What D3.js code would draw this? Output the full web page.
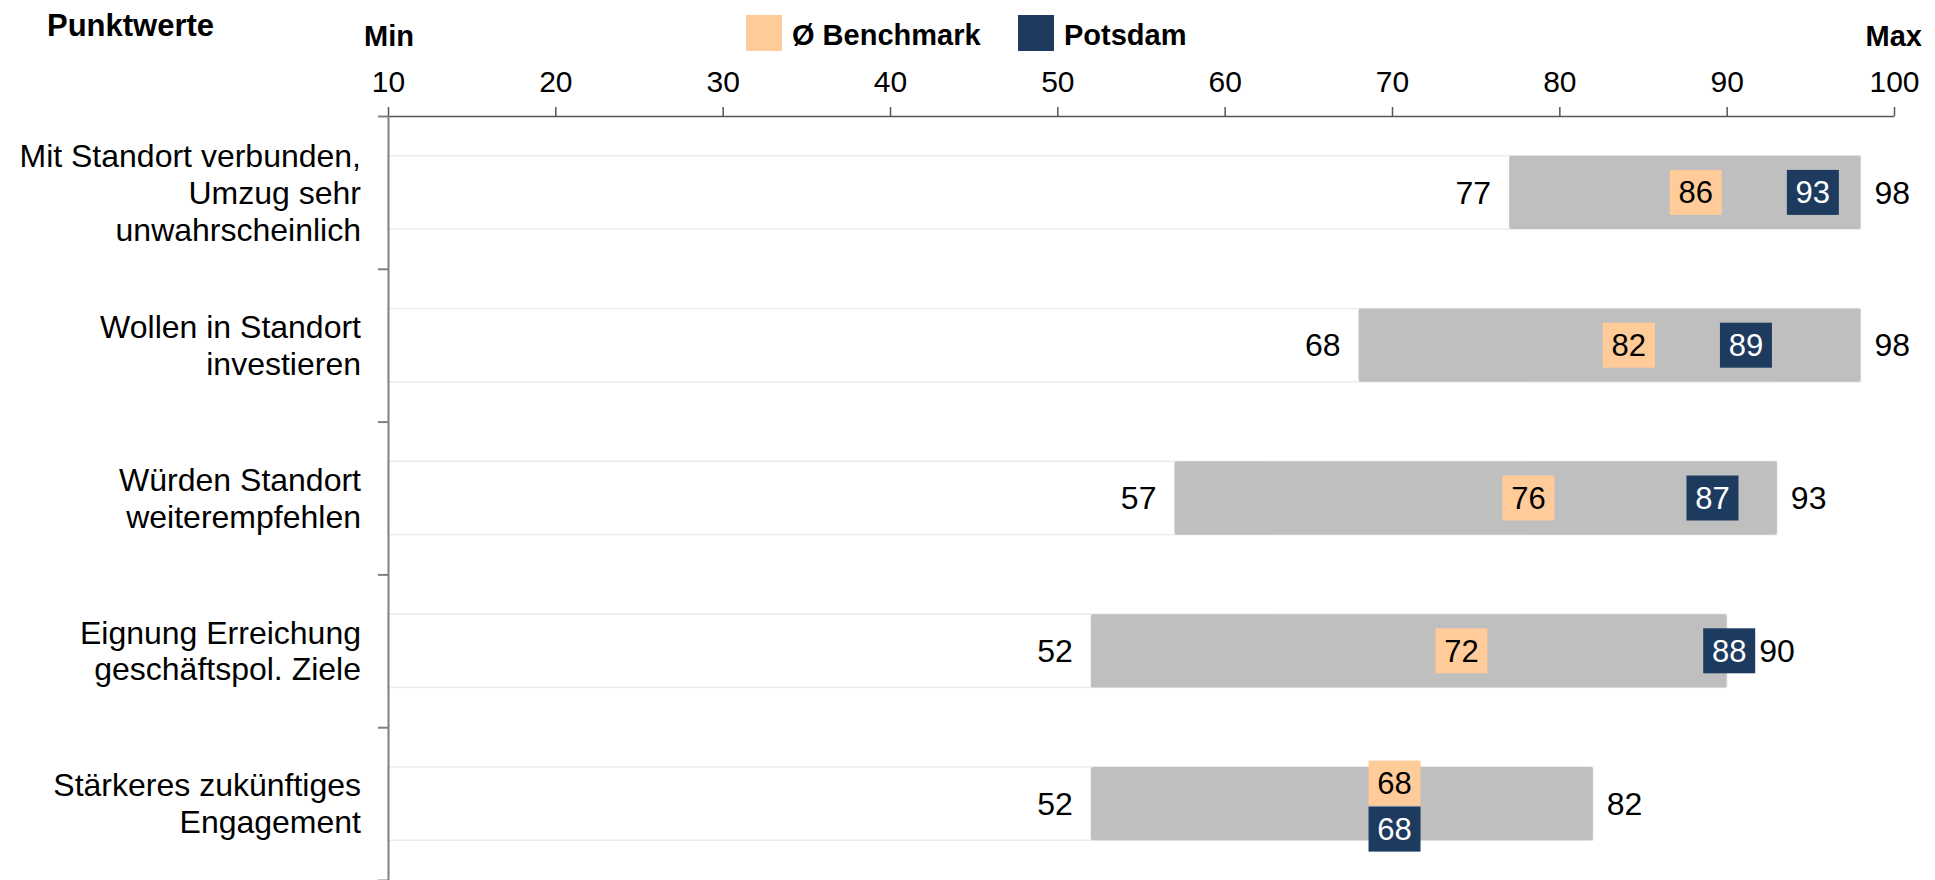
<!DOCTYPE html>
<html>
<head>
<meta charset="utf-8">
<script src="https://cdn.jsdelivr.net/npm/d3@7"></script>
<style>
    html, body { margin: 0; padding: 0; background: #fff; }
    svg { display: block; font-family: "Liberation Sans", Arial, Helvetica, sans-serif; }
</style>
</head>
<body>
<div id="chart"></div>
<script>
// chart data
var categories = [
    "Mit Standort verbunden,|Umzug sehr|unwahrscheinlich",
    "Wollen in Standort|investieren",
    "Würden Standort|weiterempfehlen",
    "Eignung Erreichung|geschäftspol. Ziele",
    "Stärkeres zukünftiges|Engagement"
];
var minValues = [77, 68, 57, 52, 52];
var maxValues = [98, 98, 93, 90, 82];
var benchmark = [86, 82, 76, 72, 68];
var potsdam = [93, 89, 87, 88, 68];
var xTicks = [10, 20, 30, 40, 50, 60, 70, 80, 90, 100];
var seriesNames = ["Ø Benchmark", "Potsdam"];
var seriesColors = ["#ffcc99", "#1d3b5e"];

function init() {
    var w = 1935;
    var h = 880;

    var rows = categories.map(function(c, i) {
        return {
            name: c,
            lines: c.split("|"),
            min: minValues[i],
            max: maxValues[i],
            bench: benchmark[i],
            pots: potsdam[i]
        };
    });

    var svg = d3.select("#chart")
        .append("svg")
        .attr("width", w)
        .attr("height", h);

    // scales
    var xScale = d3.scaleLinear()
        .domain([10, 100])
        .range([388, 1894]);

    var yScale = d3.scaleBand()
        .domain(categories)
        .range([116, 880])
        .padding(0);

    var yEdge = d3.scaleLinear()
        .domain([0, categories.length])
        .range([116, 880]);

    var barH = yScale.bandwidth() * 0.48;
    var boxW = 52, boxH = 45;

    // row groups
    var row = svg.selectAll("g.row")
        .data(rows)
        .enter()
        .append("g")
        .attr("class", "row")
        .attr("transform", function(d) { return "translate(0," + (yScale(d.name) + yScale.bandwidth() / 2) + ")"; });

    // white background bar
    row.append("rect")
        .attr("x", xScale(10))
        .attr("y", -barH / 2)
        .attr("width", function(d) { return xScale(d.max) - xScale(10); })
        .attr("height", barH)
        .attr("fill", "#fff")
        .attr("stroke", "#ebebeb")
        .attr("stroke-width", 1.5);

    // min-max range bar
    row.append("rect")
        .attr("x", function(d) { return xScale(d.min); })
        .attr("y", -barH / 2)
        .attr("width", function(d) { return xScale(d.max) - xScale(d.min); })
        .attr("height", barH)
        .attr("rx", 2)
        .attr("fill", "#bfbfbf");

    // min label
    row.append("text")
        .attr("x", function(d) { return xScale(d.min) - 18; })
        .attr("y", 0)
        .attr("dy", "0.35em")
        .attr("text-anchor", "end")
        .attr("font-size", "32px")
        .attr("fill", "#000")
        .text(function(d) { return d.min; });

    // value boxes (stacked when benchmark and Potsdam collide)
    function boxY(d, which) {
        var stacked = Math.abs(xScale(d.bench) - xScale(d.pots)) < boxW;
        if (!stacked) return -boxH / 2;
        return which === 0 ? -boxH + 2 : 3;
    }

    [["bench", 0], ["pots", 1]].forEach(function(s) {
        var key = s[0], idx = s[1];
        var g = row.append("g")
            .attr("transform", function(d) {
                return "translate(" + (xScale(d[key]) + 10) + "," + boxY(d, idx) + ")";
            });
        g.append("rect")
            .attr("width", boxW)
            .attr("height", boxH)
            .attr("fill", seriesColors[idx]);
        g.append("text")
            .attr("x", boxW / 2)
            .attr("y", boxH / 2)
            .attr("dy", "0.35em")
            .attr("text-anchor", "middle")
            .attr("font-size", "31px")
            .attr("fill", idx === 0 ? "#000" : "#fff")
            .text(function(d) { return d[key]; });
    });

    // max label, pushed right if it would hit the Potsdam box
    row.append("text")
        .attr("x", function(d) {
            return Math.max(xScale(d.max) + 14, xScale(d.pots) + 10 + boxW + 4);
        })
        .attr("y", 0)
        .attr("dy", "0.35em")
        .attr("text-anchor", "start")
        .attr("font-size", "32px")
        .attr("fill", "#000")
        .text(function(d) { return d.max; });

    // category labels
    var lineH = 37;
    row.append("text")
        .attr("text-anchor", "end")
        .attr("font-size", "32px")
        .attr("fill", "#000")
        .selectAll("tspan")
        .data(function(d) { return d.lines; })
        .enter()
        .append("tspan")
        .attr("x", 361)
        .attr("y", function(l, i, nodes) {
            var n = nodes.length;
            return (i - (n - 1) / 2) * lineH;
        })
        .attr("dy", "0.35em")
        .text(function(l) { return l; });

    // top x axis
    var xAxis = svg.append("g")
        .attr("transform", "translate(0,116)")
        .call(d3.axisTop(xScale)
            .tickValues(xTicks)
            .tickSize(9)
            .tickSizeOuter(0)
            .tickPadding(15));
    xAxis.select(".domain").attr("stroke", "#555").attr("stroke-width", 1.5);
    xAxis.selectAll(".tick line").attr("stroke", "#555").attr("stroke-width", 1.5);
    xAxis.selectAll(".tick text")
        .attr("font-size", "30px")
        .attr("font-family", "'Liberation Sans', Arial, sans-serif")
        .attr("fill", "#000");

    // left axis with ticks at row boundaries
    var yAxis = svg.append("g")
        .attr("transform", "translate(388,0)")
        .call(d3.axisLeft(yEdge)
            .tickValues(d3.range(0, categories.length + 1))
            .tickSize(10)
            .tickSizeOuter(0)
            .tickFormat(""));
    yAxis.select(".domain").attr("stroke", "#808080").attr("stroke-width", 2);
    yAxis.selectAll(".tick line").attr("stroke", "#808080").attr("stroke-width", 2);

    // header texts
    svg.append("text")
        .attr("x", 47)
        .attr("y", 36)
        .attr("font-size", "31px")
        .attr("font-weight", "bold")
        .text("Punktwerte");

    svg.append("text")
        .attr("x", 364)
        .attr("y", 46)
        .attr("font-size", "29px")
        .attr("font-weight", "bold")
        .text("Min");

    svg.append("text")
        .attr("x", 1922)
        .attr("y", 46)
        .attr("text-anchor", "end")
        .attr("font-size", "29px")
        .attr("font-weight", "bold")
        .text("Max");

    // legend
    var legendX = [746, 1018];
    var legend = svg.selectAll("g.legend")
        .data(seriesNames)
        .enter()
        .append("g")
        .attr("class", "legend")
        .attr("transform", function(d, i) { return "translate(" + legendX[i] + ",15)"; });

    legend.append("rect")
        .attr("width", 36)
        .attr("height", 36)
        .attr("fill", function(d, i) { return seriesColors[i]; });

    legend.append("text")
        .attr("x", 46)
        .attr("y", 30)
        .attr("font-size", "29px")
        .attr("font-weight", "bold")
        .text(function(d) { return d; });
}

window.onload = init;
</script>
</body>
</html>
